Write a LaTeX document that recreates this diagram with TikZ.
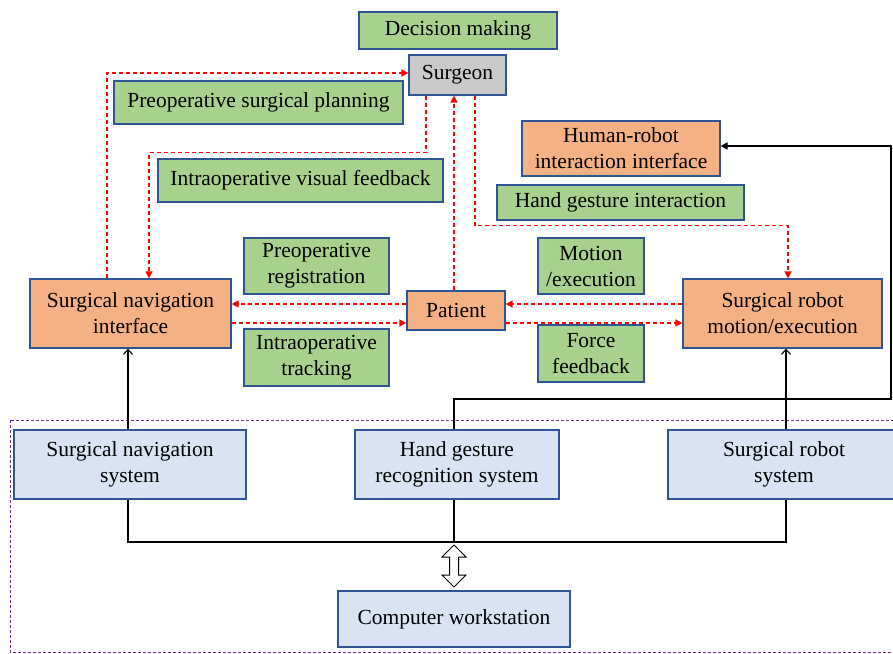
\documentclass[tikz,border=0pt]{standalone}
\usepackage{fontspec}
\setmainfont{Liberation Serif}
\usetikzlibrary{arrows.meta}
\definecolor{gfill}{HTML}{A9D18E}
\definecolor{ofill}{HTML}{F4B183}
\definecolor{sfill}{HTML}{C9C9C9}
\definecolor{bfill}{HTML}{DAE3F3}
\definecolor{bdr}{HTML}{2F5597}
\definecolor{pur}{HTML}{7030A0}
\tikzset{
  box/.style={draw=bdr, line width=1.2pt, align=center, inner sep=0pt,
    font=\fontsize{21.5}{26}\selectfont},
  gbox/.style={box, fill=gfill},
  obox/.style={box, fill=ofill},
  sbox/.style={box, fill=sfill},
  bbox/.style={box, fill=bfill},
  rd/.style={draw=red, line width=1.4pt, dash pattern=on 4pt off 3pt, -{Triangle[length=7pt,width=7pt]}},
  bk/.style={draw=black, line width=1.1pt},
  openarr/.style={bk, -{Straight Barb[length=5pt,width=9pt]}},
}
\begin{document}
\begin{tikzpicture}[x=1pt,y=-1pt]
\useasboundingbox (0,0) rectangle (893,653);
\clip (0,0) rectangle (893,653);
\fill[white] (0,0) rectangle (893,653);
% frame
\draw[pur, line width=0.9pt, dash pattern=on 3pt off 2pt] (10,420) rectangle (905,652);
% nodes
\node[gbox, minimum width=198, minimum height=37] (decision) at (458,30.5) {Decision making};
\node[sbox, minimum width=97, minimum height=40] (surgeon) at (457.5,75) {Surgeon};
\node[gbox, minimum width=289, minimum height=43] (plan) at (258.5,102.5) {Preoperative surgical planning};
\node[gbox, minimum width=285, minimum height=43] (visfb) at (300.5,180.5) {Intraoperative visual feedback};
\node[obox, minimum width=198, minimum height=55] (hri) at (621,148.5) {Human-robot\\interaction interface};
\node[gbox, minimum width=247, minimum height=35] (hgi) at (620.5,202.5) {Hand gesture interaction};
\node[gbox, minimum width=145, minimum height=56] (preg) at (316.5,266) {Preoperative\\registration};
\node[gbox, minimum width=106, minimum height=56] (motion) at (591,266) {Motion\\/execution};
\node[obox, minimum width=201, minimum height=69] (navi) at (130.5,313.5) {Surgical navigation\\interface};
\node[obox, minimum width=98, minimum height=39] (patient) at (456,310.5) {Patient};
\node[obox, minimum width=199, minimum height=69] (robi) at (782.5,313.5) {Surgical robot\\motion/execution};
\node[gbox, minimum width=145, minimum height=57] (itrack) at (316.5,357.5) {Intraoperative\\tracking};
\node[gbox, minimum width=106, minimum height=57] (force) at (591,353.5) {Force\\feedback};
\node[bbox, minimum width=232, minimum height=69] (nsys) at (130,464.5) {Surgical navigation\\system};
\node[bbox, minimum width=204, minimum height=69] (hgsys) at (457,464.5) {Hand gesture\\recognition system};
\node[bbox, minimum width=232, minimum height=69] (rsys) at (784,464.5) {Surgical robot\\system};
\node[bbox, minimum width=232, minimum height=56] (cw) at (454,619) {Computer workstation};
% red dashed connectors
\draw[rd] ([xshift=-23.5pt]navi.north) |- ([yshift=2pt]surgeon.west);
\draw[rd] ([xshift=-31.5pt]surgeon.south) -- ++(0,57) -| ([xshift=18.5pt]navi.north);
\draw[rd] ([xshift=-2pt]patient.north) -- ([xshift=-3.5pt]surgeon.south);
\draw[rd] ([xshift=17.5pt]surgeon.south) -- ++(0,130) -| ([xshift=5.5pt]robi.north);
\coordinate (pw1) at ([yshift=6.5pt]patient.west);
\coordinate (pw2) at ([yshift=-12.5pt]patient.west);
\coordinate (pe1) at ([yshift=6.5pt]patient.east);
\coordinate (pe2) at ([yshift=-12.5pt]patient.east);
\draw[rd] (pw1) -- (navi.east |- pw1);
\draw[rd] (navi.east |- pw2) -- (pw2);
\draw[rd] (robi.west |- pe1) -- (pe1);
\draw[rd] (pe2) -- (robi.west |- pe2);
% black connectors
\draw[openarr] ([xshift=-2pt]nsys.north) -- ([xshift=-2pt]nsys.north |- navi.south);
\draw[openarr] ([xshift=2pt]rsys.north) -- ([xshift=2pt]rsys.north |- robi.south);
\coordinate (rcorner) at (891,399);
\draw[bk, -{Triangle[length=7pt,width=7pt]}] ([xshift=-3pt]hgsys.north) |- (rcorner) |- ([yshift=2.5pt]hri.east);
\coordinate (bus) at (454,542);
\coordinate (nb) at ([xshift=-2pt]nsys.south);
\coordinate (rb) at ([xshift=2pt]rsys.south);
\draw[bk] (nb) |- (bus -| rb) -- (rb);
\draw[bk] ([xshift=-3pt]hgsys.south) -- (bus);
% hollow double arrow
\draw[bk, fill=white, line width=1pt] (454,545) -- ++(12,12) -- ++(-7.5,0) -- ++(0,18) -- ++(7.5,0)
  -- ++(-12,12) -- ++(-12,-12) -- ++(7.5,0) -- ++(0,-18) -- ++(-7.5,0) -- cycle;
\end{tikzpicture}
\end{document}
